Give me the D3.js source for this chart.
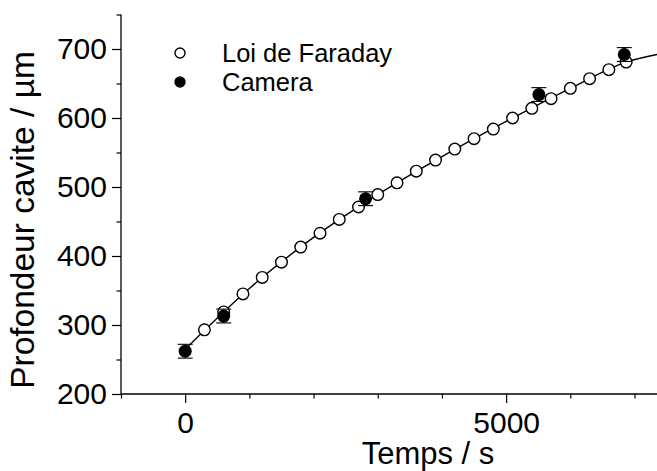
<!DOCTYPE html>
<html>
<head>
<meta charset="utf-8">
<script src="https://cdn.jsdelivr.net/npm/d3@7"></script>
<style>
  body { margin: 0; background: #fff; }
  svg text { font-family: "Liberation Sans", Arial, sans-serif; fill: #000; }
</style>
</head>
<body>
<div id="chart"></div>
<script>
// Loi de Faraday (open circles)
const faradayTime = [300, 600, 900, 1200, 1500, 1800, 2100, 2400, 2700, 3000, 3300, 3600,
    3900, 4200, 4500, 4800, 5100, 5400, 5700, 6000, 6300, 6600, 6870];
const faradayDepth = [293, 319, 345, 369, 391, 413, 433, 453, 471, 489, 506, 523,
    539, 555, 570, 584, 600, 614, 628, 643, 657, 670, 681];

// Camera (filled circles with error bars)
const cameraTime = [0, 600, 2810, 5510, 6840];
const cameraDepth = [262, 313, 483, 634, 692];
const cameraErr = [10, 10, 10, 10, 10];

// fitted curve
const fitTime = [0, 1000, 2000, 3000, 4000, 5000, 6000, 6870, 7350];
const fitDepth = [265, 353, 427, 489, 544, 595, 643, 681, 692];

const xMajor = [0, 5000];
const xMinor = [-1000, 1000, 2000, 3000, 4000, 6000, 7000];
const yMajor = [200, 300, 400, 500, 600, 700];
const yMinor = [250, 350, 450, 550, 650, 750];

const legendLabels = ['Loi de Faraday', 'Camera'];

const width = 657, height = 471;

const svg = d3.select('#chart').append('svg')
    .attr('width', width)
    .attr('height', height);

const x = d3.scaleLinear().domain([-1000, 7350]).range([121, 657]);
const y = d3.scaleLinear().domain([200, 750]).range([394, 14.5]);

// axes
const axisX = svg.append('g').attr('transform', `translate(0, ${y(200)})`);
axisX.call(d3.axisBottom(x).tickValues(xMajor).tickSize(9).tickPadding(9).tickFormat(d3.format('d')));
axisX.append('g').call(d3.axisBottom(x).tickValues(xMinor).tickSize(4.5).tickFormat(''));

const axisY = svg.append('g').attr('transform', `translate(${x(-1000)}, 0)`);
axisY.call(d3.axisLeft(y).tickValues(yMajor).tickSize(9).tickPadding(5));
axisY.append('g').call(d3.axisLeft(y).tickValues(yMinor).tickSize(4.5).tickFormat(''));

// plain axis lines, no end caps
svg.selectAll('.domain').remove();
svg.append('line').attr('x1', x(-1000)).attr('x2', x(7350)).attr('y1', y(200)).attr('y2', y(200))
    .attr('stroke', '#000').attr('stroke-width', 1.3);
svg.append('line').attr('x1', x(-1000)).attr('x2', x(-1000)).attr('y1', y(200)).attr('y2', y(750))
    .attr('stroke', '#000').attr('stroke-width', 1.3);

svg.selectAll('.tick line').attr('stroke', '#000').attr('stroke-width', 1.2);
svg.selectAll('.tick text').style('font-size', '30px');

// axis titles
svg.append('text')
    .attr('x', 428)
    .attr('y', 464)
    .attr('text-anchor', 'middle')
    .style('font-size', '31px')
    .text('Temps / s');

svg.append('text')
    .attr('transform', 'translate(34, 220) rotate(-90)')
    .attr('text-anchor', 'middle')
    .style('font-size', '33.5px')
    .text('Profondeur cavite / µm');

// fit line
const line = d3.line()
    .x((d, i) => x(fitTime[i]))
    .y(d => y(d))
    .curve(d3.curveMonotoneX);

svg.append('path')
    .datum(fitDepth)
    .attr('d', line)
    .attr('fill', 'none')
    .attr('stroke', '#000')
    .attr('stroke-width', 1.4);

// open circles
svg.selectAll('.faraday')
    .data(faradayDepth)
    .enter().append('circle')
    .attr('class', 'faraday')
    .attr('cx', (d, i) => x(faradayTime[i]))
    .attr('cy', d => y(d))
    .attr('r', 5.8)
    .attr('fill', '#fff')
    .attr('stroke', '#000')
    .attr('stroke-width', 1.4);

// error bars
const errG = svg.append('g').attr('stroke', '#000').attr('stroke-width', 1.1);
cameraDepth.forEach((d, i) => {
    const cx = x(cameraTime[i]);
    errG.append('line').attr('x1', cx).attr('x2', cx)
        .attr('y1', y(d - cameraErr[i])).attr('y2', y(d + cameraErr[i]));
    [d - cameraErr[i], d + cameraErr[i]].forEach(v => {
        errG.append('line').attr('x1', cx - 7.5).attr('x2', cx + 7.5)
            .attr('y1', y(v)).attr('y2', y(v));
    });
});

// filled circles
svg.selectAll('.camera')
    .data(cameraDepth)
    .enter().append('circle')
    .attr('class', 'camera')
    .attr('cx', (d, i) => x(cameraTime[i]))
    .attr('cy', d => y(d))
    .attr('r', 6.5)
    .attr('fill', '#000');

// legend
const legend = svg.append('g');
legendLabels.forEach((label, i) => {
    const ly = 53 + i * 29;
    legend.append('circle')
        .attr('cx', 180)
        .attr('cy', ly)
        .attr('r', 5)
        .attr('fill', i === 0 ? '#fff' : '#000')
        .attr('stroke', '#000')
        .attr('stroke-width', 1.4);
    legend.append('text')
        .attr('x', 222)
        .attr('y', ly + 9)
        .style('font-size', '25.5px')
        .text(label);
});
</script>
</body>
</html>
